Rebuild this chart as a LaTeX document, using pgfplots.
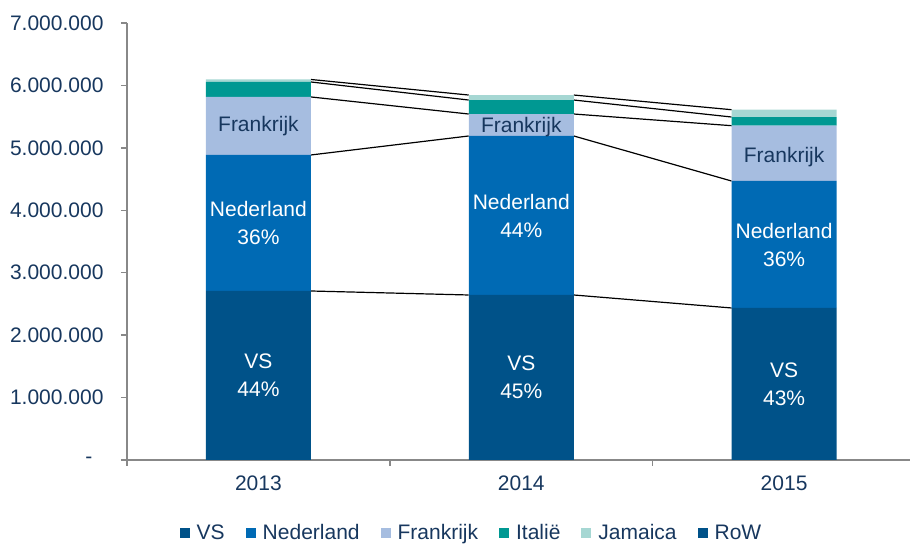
\documentclass[border=0pt]{standalone}
\usepackage{pgfplots}
\pgfplotsset{compat=1.18}
\usepackage{fontspec}
\setmainfont{Liberation Sans}

\definecolor{cVS}{RGB}{0,82,137}
\definecolor{cNL}{RGB}{0,106,180}
\definecolor{cFR}{RGB}{166,189,224}
\definecolor{cIT}{RGB}{0,152,146}
\definecolor{cJA}{RGB}{166,215,211}
\definecolor{txt}{RGB}{23,55,94}
\definecolor{axgray}{RGB}{136,136,136}

\tikzset{big/.style={font=\fontsize{21bp}{28bp}\selectfont}}
\pgfplotsset{
  sq/.style={legend image code/.code={\fill[##1] (0bp,-5bp) rectangle (10bp,5bp);}},
  frame/.style={scale only axis, width=783bp, height=437bp,
    xmin=-0.5, xmax=2.479, ymin=0, ymax=7000000},
}

\begin{document}
\begin{tikzpicture}
% connector lines (behind the bars)
\begin{axis}[frame, hide axis, unbounded coords=jump]
\addplot[black, line width=1.2bp] coordinates {(0.2,2707000) (0.8,2643000) (1,nan) (1.2,2643000) (1.8,2435000)};
\addplot[black, line width=1.2bp] coordinates {(0.2,4886000) (0.8,5190000) (1,nan) (1.2,5190000) (1.8,4469000)};
\addplot[black, line width=1.2bp] coordinates {(0.2,5815000) (0.8,5542000) (1,nan) (1.2,5542000) (1.8,5355000)};
\addplot[black, line width=1.2bp] coordinates {(0.2,6055000) (0.8,5766000) (1,nan) (1.2,5766000) (1.8,5494000)};
\addplot[black, line width=1.2bp] coordinates {(0.2,6095000) (0.8,5846000) (1,nan) (1.2,5846000) (1.8,5611000)};
\end{axis}

\begin{axis}[
  frame, name=main,
  ybar stacked, bar width=105bp,
  axis x line=bottom, axis y line=left,
  axis line style={axgray, line width=1.5bp, -},
  xtick={0,1,2}, xticklabels={2013,2014,2015},
  major x tick style={draw=none},
  minor xtick={-0.5,0.5,1.5}, minor tick length=6bp,
  minor x tick style={axgray, line width=1.5bp},
  ytick={0,1000000,...,7000000},
  yticklabels={-\hspace*{11bp},1.000.000,2.000.000,3.000.000,4.000.000,5.000.000,6.000.000,7.000.000},
  major tick length=6bp, tick align=outside,
  major y tick style={axgray, line width=1.5bp},
  tick label style={big, text=txt},
  yticklabel style={xshift=-14bp},
  xticklabel style={yshift=-6bp},
  scaled y ticks=false,
  legend columns=6,
  legend style={draw=none, fill=none, at={(0.44,-0.167)}, anchor=center,
    font=\fontsize{21bp}{24bp}\selectfont, text=txt,
    /tikz/every odd column/.append style={column sep=5bp},
    /tikz/every even column/.append style={column sep=19bp}},
  legend cell align=left,
  clip=false]
\addplot[fill=cVS, draw=none, sq] coordinates {(0,2707000) (1,2643000) (2,2435000)};
\addplot[fill=cNL, draw=none, sq] coordinates {(0,2179000) (1,2547000) (2,2034000)};
\addplot[fill=cFR, draw=none, sq] coordinates {(0,929000) (1,352000) (2,886000)};
\addplot[fill=cIT, draw=none, sq] coordinates {(0,240000) (1,224000) (2,139000)};
\addplot[fill=cJA, draw=none, sq] coordinates {(0,40000) (1,80000) (2,117000)};
\addplot[fill=cVS, draw=none, sq] coordinates {(0,0) (1,0) (2,0)};
\legend{VS,Nederland,Frankrijk,Italië,Jamaica,RoW}
\end{axis}

% segment labels
\begin{axis}[frame, hide axis, clip=false]
\node[big, text=white, align=center] at (axis cs:0,1353500) {VS\\44\%};
\node[big, text=white, align=center] at (axis cs:1,1321500) {VS\\45\%};
\node[big, text=white, align=center] at (axis cs:2,1217500) {VS\\43\%};
\node[big, text=white, align=center] at (axis cs:0,3796000) {Nederland\\36\%};
\node[big, text=white, align=center] at (axis cs:1,3910000) {Nederland\\44\%};
\node[big, text=white, align=center] at (axis cs:2,3444000) {Nederland\\36\%};
\node[big, text=txt] at (axis cs:0,5350000) {Frankrijk};
\node[big, text=txt] at (axis cs:1,5330000) {Frankrijk};
\node[big, text=txt] at (axis cs:2,4860000) {Frankrijk};
\end{axis}
\pgfresetboundingbox
\path (main.south west) ++(-127bp,-87bp) coordinate (bl);
\path (main.north east) ++(0bp,23bp) coordinate (tr);
\path[use as bounding box] (bl) rectangle (tr);
\end{tikzpicture}
\end{document}
